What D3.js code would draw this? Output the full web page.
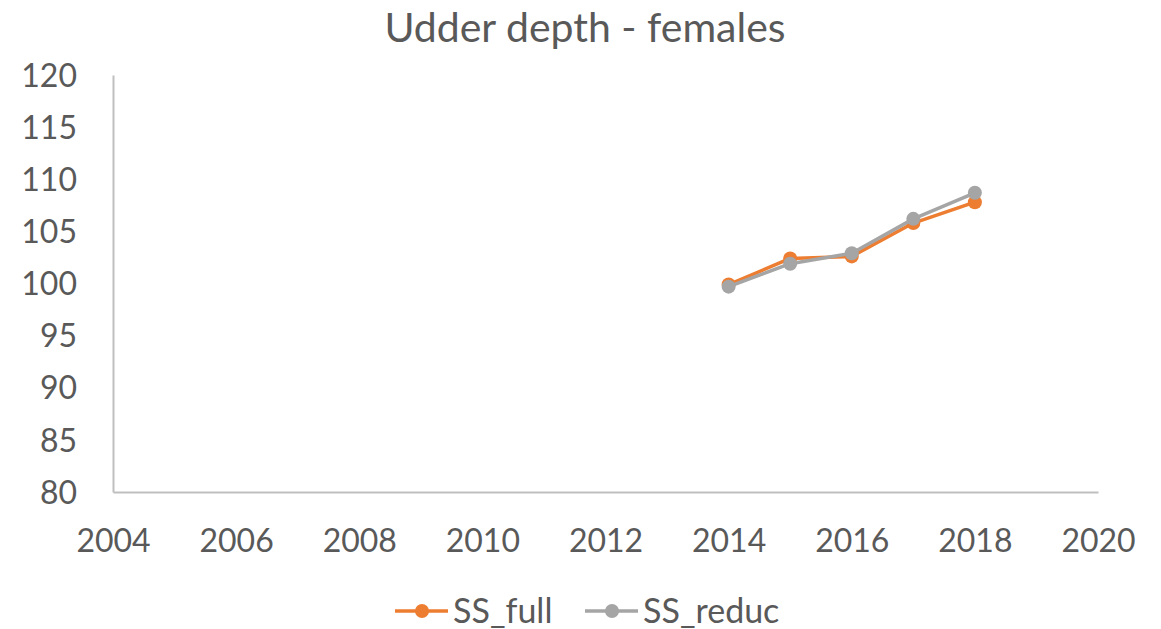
<!DOCTYPE html>
<html>
<head>
<meta charset="utf-8">
<script src="https://cdn.jsdelivr.net/npm/d3@7"></script>
<style>
  body { margin: 0; background: #fff; }
  text { font-family: Lato, "Open Sans", sans-serif; fill: #595959; }
</style>
</head>
<body>
<div id="container"></div>
<script>
const years = [2014, 2015, 2016, 2017, 2018];
const ssFull = [99.9, 102.4, 102.6, 105.8, 107.8];
const ssReduc = [99.7, 101.9, 102.9, 106.2, 108.7];
const xTicks = [2004, 2006, 2008, 2010, 2012, 2014, 2016, 2018, 2020];
const yTicks = [80, 85, 90, 95, 100, 105, 110, 115, 120];

const series = [
  {name: "SS_full", values: ssFull, color: "#ed7d31"},
  {name: "SS_reduc", values: ssReduc, color: "#a5a5a5"}
];

const w = 1161, h = 629;
const margin = {top: 75, left: 113, bottom: 137, right: 63};
const graphWidth = w - margin.left - margin.right;
const graphHeight = h - margin.top - margin.bottom;

const svg = d3.select("#container").append("svg").attr("width", w).attr("height", h);

svg.append("text")
  .attr("x", 585).attr("y", 28)
  .attr("dy", "0.35em")
  .attr("text-anchor", "middle")
  .attr("font-size", 41)
  .text("Udder depth - females");

const graph = svg.append("g").attr("transform", `translate(${margin.left}, ${margin.top})`);

const xScale = d3.scaleLinear().domain([2004, 2020]).range([0, graphWidth]);
const yScale = d3.scaleLinear().domain([80, 120]).range([graphHeight, 0]);

const xAxis = d3.axisBottom(xScale).tickValues(xTicks).tickFormat(d3.format("d")).tickSize(0).tickPadding(37);
const yAxis = d3.axisLeft(yScale).tickValues(yTicks).tickSize(0).tickPadding(36);

const xg = graph.append("g").attr("transform", `translate(0, ${graphHeight})`).call(xAxis);
const yg = graph.append("g").call(yAxis);
[xg, yg].forEach(g => {
  g.select(".domain").attr("stroke", "#bfbfbf").attr("stroke-width", 2);
  g.selectAll("text").attr("font-size", 32).attr("fill", "#595959").attr("font-family", "Lato, sans-serif");
});
xg.selectAll("text").attr("dy", "0.71em");
yg.selectAll("text").attr("dy", "0.35em");

const line = d3.line().x((d, i) => xScale(years[i])).y(d => yScale(d));

series.forEach(s => {
  graph.append("path")
    .datum(s.values)
    .attr("fill", "none")
    .attr("stroke", s.color)
    .attr("stroke-width", 3.5)
    .attr("stroke-linejoin", "round")
    .attr("d", line);
  graph.selectAll(null)
    .data(s.values)
    .enter()
    .append("circle")
      .attr("cx", (d, i) => xScale(years[i]))
      .attr("cy", d => yScale(d))
      .attr("r", 7)
      .attr("fill", s.color);
});

// legend
const legend = svg.append("g").attr("transform", "translate(395, 611)");
const legendX = [0, 190];
series.forEach((s, i) => {
  const g = legend.append("g").attr("transform", `translate(${legendX[i]}, 0)`);
  g.append("line").attr("x1", 0).attr("x2", 53).attr("y1", 0).attr("y2", 0)
    .attr("stroke", s.color).attr("stroke-width", 3.5);
  g.append("circle").attr("cx", 27).attr("cy", 0).attr("r", 7).attr("fill", s.color);
  g.append("text").attr("x", 58).attr("y", 0).attr("dy", "0.35em")
    .attr("font-size", 34).text(s.name);
});
</script>
</body>
</html>
